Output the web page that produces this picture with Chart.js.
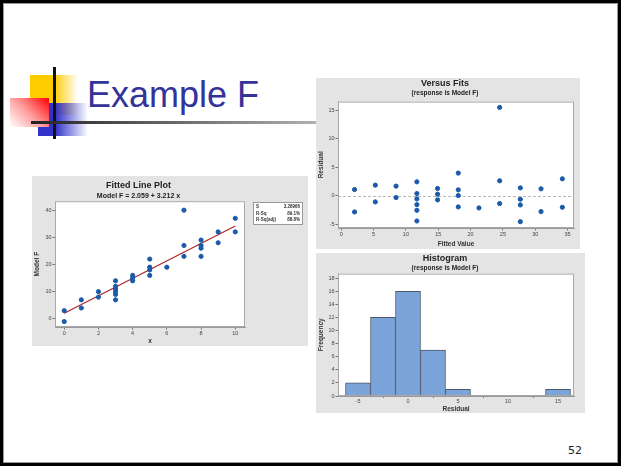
<!DOCTYPE html>
<html>
<head>
<meta charset="utf-8">
<script src="https://cdn.jsdelivr.net/npm/chart.js@4.4.0/dist/chart.umd.min.js"></script>
<style>
  html, body { margin: 0; padding: 0; background: #fff; }
  #slide { position: relative; width: 621px; height: 466px; overflow: hidden; background: #fff; }
  .abs { position: absolute; }
  canvas { position: absolute; background: #e4e4e4; }
</style>
</head>
<body>
<div id="slide">
  <!-- slide frame -->
  <div class="abs" style="left:0;top:0;width:621px;height:466px;box-sizing:border-box;border:3px solid #000;"></div>
  <div class="abs" style="left:3px;top:3px;width:615px;height:460px;box-sizing:border-box;border:1px solid #999;"></div>

  <!-- title decoration -->
  <div class="abs" style="left:30px;top:75px;width:48px;height:40px;background:linear-gradient(to right,#ffcc00 50%,rgba(255,204,0,0));"></div>
  <div class="abs" style="left:38px;top:103px;width:50px;height:33px;background:linear-gradient(to right,#3333cc 35%,rgba(51,51,204,0));"></div>
  <div class="abs" style="left:10px;top:98px;width:39px;height:29px;background:linear-gradient(225deg,#ff0000 0%,#ff9a9a 50%,#fff 100%);"></div>
  <div class="abs" style="left:53px;top:67px;width:3px;height:72px;background:#111;"></div>
  <div class="abs" style="left:31px;top:121px;width:285px;height:3px;background:linear-gradient(to right,#222,#b0b0b0);"></div>
  <div class="abs" style="left:87px;top:77px;font:36px 'Liberation Sans',Arial,sans-serif;line-height:36px;color:#333399;">Example F</div>
  <div class="abs" style="left:568px;top:445px;font:11px 'DejaVu Sans',sans-serif;line-height:11px;color:#222;">52</div>

  <canvas id="fitPlot" width="276" height="170" style="left:32px;top:176px;"></canvas>
  <canvas id="fitsPlot" width="264" height="171" style="left:316px;top:78px;"></canvas>
  <canvas id="histPlot" width="269" height="160" style="left:316px;top:253px;"></canvas>
</div>

<script>
// Fitted line plot data
const xValues = [0, 0, 1, 1, 2, 2, 3, 3, 3, 3, 3, 3, 4, 4, 4, 5, 5, 5, 5, 6, 7, 7, 7, 8, 8, 8, 8, 9, 9, 10, 10]
const modelF = [3, -1, 7, 4, 10, 8, 14, 12, 11, 10, 9, 7, 16, 15, 14, 22, 19, 18, 16, 19, 40, 27, 23, 29, 27, 26, 23, 32, 28, 37, 32]
const lineX = [0, 10]
const lineY = [2.06, 34.18]
const fitXTicks = [0, 2, 4, 6, 8, 10]
const fitYTicks = [0, 10, 20, 30, 40]
const statLabels = ['S', 'R-Sq', 'R-Sq(adj)']
const statValues = ['3.28966', '89.1%', '88.8%']

// Versus fits data
const fittedValues = [2.06, 2.06, 5.27, 5.27, 8.48, 8.48, 11.7, 11.7, 11.7, 11.7, 11.7, 11.7, 14.9, 14.9, 14.9,
  18.1, 18.1, 18.1, 18.1, 21.3, 24.5, 24.5, 24.5, 27.7, 27.7, 27.7, 27.7, 30.9, 30.9, 34.2, 34.2]
const residuals = [1.06, -2.88, 1.82, -1.12, 1.65, -0.35, 2.41, 0.35, -0.59, -1.59, -2.59, -4.47, 1.24, 0.24, -0.76,
  3.94, 1.0, 0.0, -2.0, -2.18, 15.47, 2.59, -1.41, 1.35, -0.65, -1.65, -4.59, 1.18, -2.82, 2.94, -2.06]
const fitsXTicks = [0, 5, 10, 15, 20, 25, 30, 35]
const fitsYTicks = [-5, 0, 5, 10, 15]

// Histogram data
const binCenters = [-5, -2.5, 0, 2.5, 5, 7.5, 10, 12.5, 15]
const binCounts = [2, 12, 16, 7, 1, 0, 0, 0, 1]
const histXTicks = [-5, 0, 5, 10, 15]
const histYTicks = [0, 2, 4, 6, 8, 10, 12, 14, 16, 18]

const FONT = "'Liberation Sans', Arial, sans-serif"
const pointBlue = '#1a5aa8'

// white plot area + frame
const plotBox = {
  id: 'plotBox',
  beforeDatasetsDraw(chart) {
    const a = chart.chartArea, ctx = chart.ctx
    ctx.save()
    ctx.fillStyle = '#fff'
    ctx.fillRect(a.left, a.top, a.right - a.left, a.bottom - a.top)
    ctx.restore()
  },
  afterDraw(chart) {
    const a = chart.chartArea, ctx = chart.ctx
    ctx.save()
    ctx.strokeStyle = '#a8a8a8'
    ctx.lineWidth = 1
    ctx.strokeRect(a.left + 0.5, a.top + 0.5, a.right - a.left - 1, a.bottom - a.top - 1)
    ctx.restore()
  }
}

const fixedTicks = (arr) => (scale) => { scale.ticks = arr.map(v => ({ value: v })) }

const makeScale = (min, max, ticks, title, size) => ({
  type: 'linear',
  min: min,
  max: max,
  afterBuildTicks: fixedTicks(ticks),
  afterFit: (s) => { if (s.isHorizontal()) s.height = size; else s.width = size },
  grid: { display: true, drawOnChartArea: false, drawTicks: true, tickLength: 2.5, color: '#777' },
  border: { display: true, color: '#999' },
  ticks: { font: { family: FONT, size: 5.5 }, color: '#444', padding: 1, maxRotation: 0, autoSkip: false },
  title: { display: true, text: title, font: { family: FONT, size: 6.5, weight: 'bold' }, color: '#333', padding: 1 }
})

const titleOpts = (text, size, top) => ({
  display: true, text: text, color: '#222',
  font: { family: FONT, size: size, weight: 'bold' },
  padding: { top: top, bottom: 0 }
})
const subOpts = (text, size, bottom) => ({
  display: true, text: text, color: '#222',
  font: { family: FONT, size: size, weight: 'bold' },
  padding: { top: 1, bottom: bottom }
})

// Fitted Line Plot
const statsBox = {
  id: 'statsBox',
  afterDraw(chart) {
    const ctx = chart.ctx
    const x = chart.chartArea.right + 8, y = 26, w = 50, h = 23
    ctx.save()
    ctx.fillStyle = '#fff'
    ctx.fillRect(x, y, w, h)
    ctx.strokeStyle = '#999'
    ctx.strokeRect(x + 0.5, y + 0.5, w - 1, h - 1)
    ctx.font = `bold 4.5px ${FONT}`
    ctx.fillStyle = '#333'
    ctx.textBaseline = 'middle'
    statLabels.forEach((lab, i) => {
      ctx.textAlign = 'left'
      ctx.fillText(lab, x + 3, y + 5 + i * 6.5)
      ctx.textAlign = 'right'
      ctx.fillText(statValues[i], x + w - 3, y + 5 + i * 6.5)
    })
    ctx.restore()
  }
}

new Chart(document.getElementById('fitPlot'), {
  type: 'scatter',
  data: {
    datasets: [
      {
        type: 'line',
        data: lineX.map((v, i) => ({ x: v, y: lineY[i] })),
        borderColor: '#a82a2a',
        borderWidth: 1.3,
        pointRadius: 0,
        order: 2
      },
      {
        data: xValues.map((v, i) => ({ x: v, y: modelF[i] })),
        backgroundColor: pointBlue,
        borderColor: pointBlue,
        pointRadius: 2.1,
        order: 1
      }
    ]
  },
  options: {
    responsive: false,
    animation: false,
    devicePixelRatio: 1,
    layout: { padding: { left: 0, right: 63, top: 0, bottom: 0 } },
    scales: {
      x: makeScale(-0.54, 10.57, fitXTicks, 'x', 19),
      y: makeScale(-3, 43.3, fitYTicks, 'Model F', 23)
    },
    plugins: {
      legend: { display: false },
      tooltip: { enabled: false },
      title: titleOpts('Fitted Line Plot', 9, 4),
      subtitle: subOpts('Model F = 2.059 + 3.212 x', 7, 1)
    }
  },
  plugins: [plotBox, statsBox]
})

// Versus Fits
const zeroLine = {
  id: 'zeroLine',
  beforeDatasetsDraw(chart) {
    const a = chart.chartArea, ctx = chart.ctx
    const y = Math.round(chart.scales.y.getPixelForValue(0)) + 0.5
    ctx.save()
    ctx.strokeStyle = '#b8b8b8'
    ctx.lineWidth = 1
    ctx.setLineDash([3, 2])
    ctx.beginPath()
    ctx.moveTo(a.left, y)
    ctx.lineTo(a.right, y)
    ctx.stroke()
    ctx.restore()
  }
}

new Chart(document.getElementById('fitsPlot'), {
  type: 'scatter',
  data: {
    datasets: [{
      data: fittedValues.map((v, i) => ({ x: v, y: residuals[i] })),
      backgroundColor: pointBlue,
      borderColor: pointBlue,
      pointRadius: 2.1
    }]
  },
  options: {
    responsive: false,
    animation: false,
    devicePixelRatio: 1,
    layout: { padding: { left: 0, right: 6, top: 0, bottom: 0 } },
    scales: {
      x: makeScale(-0.5, 36, fitsXTicks, 'Fitted Value', 21),
      y: makeScale(-5.7, 16.5, fitsYTicks, 'Residual', 22)
    },
    plugins: {
      legend: { display: false },
      tooltip: { enabled: false },
      title: titleOpts('Versus Fits', 9, 0),
      subtitle: subOpts('(response is Model F)', 6.5, 4)
    }
  },
  plugins: [plotBox, zeroLine]
})

// Histogram
const histX = makeScale(-7.0, 16.6, histXTicks, 'Residual', 17)
histX.offset = false
histX.ticks.padding = 0
histX.title.padding = 0
histX.grid.tickLength = 2

new Chart(document.getElementById('histPlot'), {
  type: 'bar',
  data: {
    datasets: [{
      data: binCenters.map((v, i) => ({ x: v, y: binCounts[i] })),
      backgroundColor: '#7ba5da',
      borderColor: '#4a5868',
      borderWidth: 1,
      borderSkipped: 'bottom',
      barPercentage: 1,
      categoryPercentage: 1
    }]
  },
  options: {
    responsive: false,
    animation: false,
    devicePixelRatio: 1,
    layout: { padding: { left: 0, right: 11, top: 0, bottom: 0 } },
    scales: {
      x: histX,
      y: makeScale(0, 18.7, histYTicks, 'Frequency', 22)
    },
    plugins: {
      legend: { display: false },
      tooltip: { enabled: false },
      title: titleOpts('Histogram', 9, 0),
      subtitle: subOpts('(response is Model F)', 6.5, 1)
    }
  },
  plugins: [plotBox]
})
</script>
</body>
</html>
